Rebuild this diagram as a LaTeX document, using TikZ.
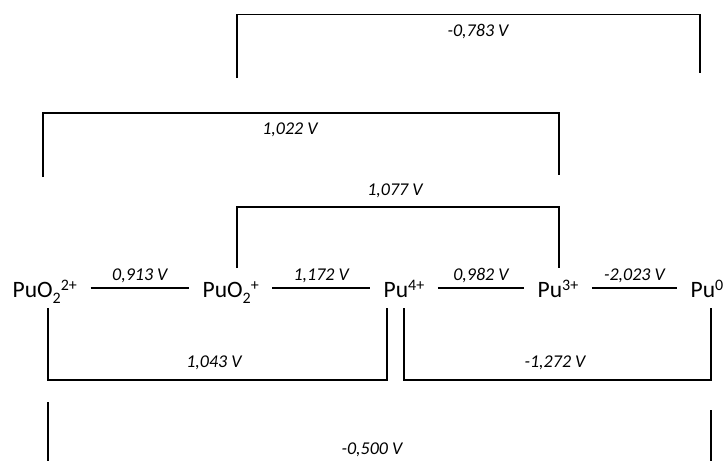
\documentclass[tikz,border=0pt]{standalone}
\usepackage{fontspec}
\setmainfont{Carlito}
\usepackage{tikz}
\usetikzlibrary{positioning}

\newcommand{\supch}[1]{\raisebox{7pt}{\fontsize{16}{16}\selectfont #1}}
\newcommand{\subch}[1]{\raisebox{-6pt}{\fontsize{16}{16}\selectfont #1}}

\begin{document}
\begin{tikzpicture}[x=1pt,y=-1pt,line width=1.3pt,
  species/.style={font=\fontsize{23.5}{27}\selectfont,inner xsep=13pt,inner ysep=0pt,anchor=base west},
  pot/.style={font=\fontsize{18}{20}\selectfont\itshape,inner sep=0pt}]
\useasboundingbox (0,0) rectangle (724,461);

%species
\node[species] (PuOd) at (-1,297) {PuO\subch{2}\supch{2+}};
\node[species] (PuOm) at (189,297) {PuO\subch{2}\supch{+}};
\node[species] (Puiv) at (370,297) {Pu\supch{4+}};
\node[species] (Puiii) at (524,297) {Pu\supch{3+}};
\node[species] (Puz) at (677,297) {Pu\supch{0}};

%steps
\draw ([yshift=9pt]PuOd.base east) -- node[pot,anchor=base,yshift=8pt] (Ea) {0,913 V} ([yshift=9pt]PuOm.base west);
\draw ([yshift=9pt]PuOm.base east) -- node[pot,anchor=base,yshift=8pt] (Eb) {1,172 V} ([yshift=9pt]Puiv.base west);
\draw ([yshift=9pt]Puiv.base east) -- node[pot,anchor=base,yshift=8pt] (Ec) {0,982 V} ([yshift=9pt]Puiii.base west);
\draw ([yshift=9pt]Puiii.base east) -- node[pot,anchor=base,yshift=8pt] (Ed) {-2,023 V} ([yshift=9pt]Puz.base west);

%brackets above
\draw (237,78) |- (700,14.7) -- (700,73);
\node[pot] (Ee) at (478,32) {-0,783 V};
\draw (43,177) |- (559,113) -- (559,175);
\node[pot] (Ef) at (290,130) {1,022 V};
\draw (237,268) |- (559,207) -- (559,268);
\node[pot] (Eg) at (395,191) {1,077 V};

%brackets below
\draw (48,308) |- (387,380) -- (387,308);
\node[pot] (Eh) at (214,363) {1,043 V};
\draw (404,308) |- (711,380) -- (711,308);
\node[pot] (Ei) at (555,363) {-1,272 V};
\draw (48,402) -- (48,461);
\draw (711,410) -- (711,461);
\node[pot] (Ej) at (372,450) {-0,500 V};

\end{tikzpicture}
\end{document}
